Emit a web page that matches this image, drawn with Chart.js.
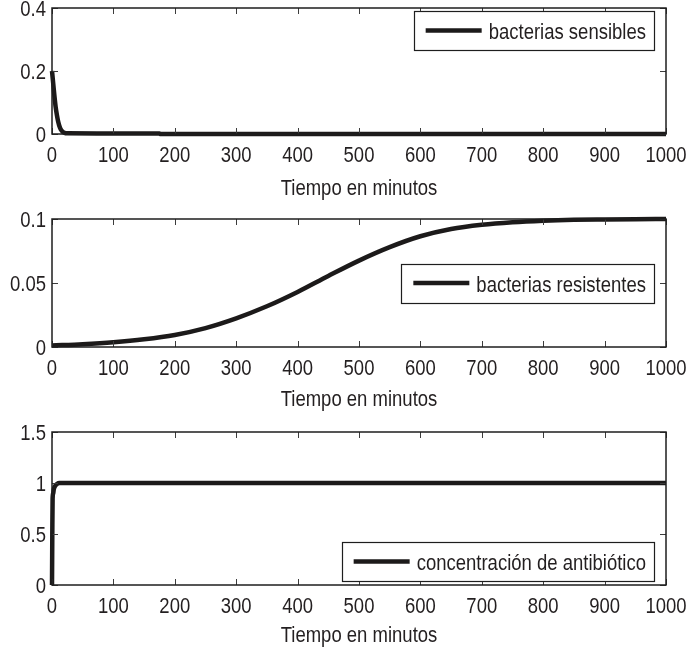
<!DOCTYPE html>
<html>
<head>
<meta charset="utf-8">
<script src="https://cdn.jsdelivr.net/npm/chart.js@4"></script>
<style>
  html, body { margin: 0; padding: 0; background: #fff; }
  #wrap { position: relative; width: 691px; height: 649px; overflow: hidden; background: #fff; }
  #wrap canvas { position: absolute; left: 0; }
</style>
</head>
<body>
<div id="wrap">
  <canvas id="cSens" width="691" height="205" style="top:0px"></canvas>
  <canvas id="cRes" width="691" height="215" style="top:205px"></canvas>
  <canvas id="cAnt" width="691" height="229" style="top:420px"></canvas>
</div>
<script>
// ---- data ----
const xTitle = 'Tiempo en minutos';
const xTicks = [0, 100, 200, 300, 400, 500, 600, 700, 800, 900, 1000];

const sensLabel = 'bacterias sensibles';
const sensTime = [0, 2, 4, 6, 8, 10, 13, 16, 20, 25, 175, 176, 1000];
const sensValues = [0.2, 0.16, 0.12, 0.085, 0.06, 0.04, 0.02, 0.01, 0.004, 0.002, 0.0015, 0, 0];
const sensYTicks = [0, 0.2, 0.4];

const resLabel = 'bacterias resistentes';
const resTime = [0, 50, 100, 150, 200, 250, 300, 350, 400, 450, 500, 550, 600, 650, 700, 750, 800, 850, 900, 950, 1000];
const resValues = [0.0012, 0.0022, 0.0037, 0.006, 0.0094, 0.0148, 0.0224, 0.0318, 0.043, 0.0555, 0.0675, 0.078, 0.0865, 0.0922, 0.0955, 0.0975, 0.0987, 0.0994, 0.0997, 0.0999, 0.1];
const resYTicks = [0, 0.05, 0.1];

const antLabel = 'concentración de antibiótico';
const antTime = [0, 0.5, 1, 2, 3, 5, 8, 12, 1000];
const antValues = [0, 0.5, 0.85, 0.9, 0.94, 0.97, 0.99, 1, 1];
const antYTicks = [0, 0.5, 1, 1.5];

// ---- style ----
const FONT = '"Liberation Sans", Arial, Helvetica, sans-serif';
const FS = 18.5;
const STRETCH = 1.15;   // tall, narrow lettering
const INK = '#231f20';
const LINE = '#1c1a1a';

function tallText(ctx, text, x, y, align) {
  ctx.save();
  ctx.translate(x, y);
  ctx.scale(1, STRETCH);
  ctx.textAlign = align;
  ctx.textBaseline = 'alphabetic';
  ctx.fillText(text, 0, 0);
  ctx.restore();
}

function fmt(v) { return String(Math.round(v * 1000) / 1000); }

// Axes box, inward tick marks on all four sides, tick labels, axis title and legend box
const axesFrame = {
  id: 'axesFrame',
  afterDatasetsDraw(chart, args, opts) {
    const { ctx, chartArea: a, scales: { x, y } } = chart;
    const TL = 6;
    ctx.save();
    ctx.strokeStyle = '#3c3c3c';
    ctx.lineWidth = 1;
    ctx.beginPath();
    x.ticks.forEach(t => {
      const px = Math.round(x.getPixelForValue(t.value)) + 0.5;
      ctx.moveTo(px, a.bottom); ctx.lineTo(px, a.bottom - TL);
      ctx.moveTo(px, a.top); ctx.lineTo(px, a.top + TL);
    });
    y.ticks.forEach(t => {
      const py = Math.round(y.getPixelForValue(t.value)) + 0.5;
      ctx.moveTo(a.left, py); ctx.lineTo(a.left + TL, py);
      ctx.moveTo(a.right, py); ctx.lineTo(a.right - TL, py);
    });
    ctx.stroke();
    ctx.strokeStyle = '#1e1e1e';
    ctx.lineWidth = 1.5;
    ctx.strokeRect(a.left, a.top, a.right - a.left, a.bottom - a.top);

    // tick labels and axis title
    ctx.font = FS + 'px ' + FONT;
    ctx.fillStyle = INK;
    x.ticks.forEach(t => tallText(ctx, fmt(t.value), x.getPixelForValue(t.value), a.bottom + 28, 'center'));
    y.ticks.forEach(t => tallText(ctx, fmt(t.value), a.left - 6, y.getPixelForValue(t.value) + 7.5, 'right'));
    tallText(ctx, xTitle, (a.left + a.right) / 2, a.bottom + opts.titleGap, 'center');

    // legend
    const tw = ctx.measureText(opts.label).width;
    const bw = 75 + tw + 8, bh = 39;
    const bx = a.right - 12 - bw;
    let by;
    if (opts.place === 'ne') by = a.top + 3;
    else if (opts.place === 'e') by = (a.top + a.bottom) / 2 - bh / 2;
    else by = a.bottom - 4 - bh;
    ctx.fillStyle = '#fff';
    ctx.fillRect(bx, by, bw, bh);
    ctx.strokeStyle = '#1e1e1e';
    ctx.lineWidth = 1.2;
    ctx.strokeRect(Math.round(bx) + 0.5, Math.round(by) + 0.5, Math.round(bw), bh);
    const cy = by + bh / 2;
    ctx.strokeStyle = LINE;
    ctx.lineWidth = 4.5;
    ctx.beginPath();
    ctx.moveTo(bx + 12, cy); ctx.lineTo(bx + 68, cy);
    ctx.stroke();
    ctx.fillStyle = INK;
    tallText(ctx, opts.label, bx + 75, cy + 8.5, 'left');
    ctx.restore();
  }
};

function makeChart(id, time, values, label, yTicks, place, box) {
  return new Chart(document.getElementById(id), {
    type: 'line',
    data: {
      datasets: [{
        label: label,
        data: time.map((t, i) => ({ x: t, y: values[i] })),
        borderColor: LINE,
        borderWidth: 4.5,
        pointRadius: 0,
        fill: false,
        clip: false,
        cubicInterpolationMode: 'monotone'
      }]
    },
    options: {
      responsive: false,
      animation: false,
      events: [],
      layout: { padding: { top: box.top, right: 25, left: 0, bottom: 0 } },
      plugins: {
        legend: { display: false },
        tooltip: { enabled: false },
        axesFrame: { label: label, place: place, titleGap: box.titleGap }
      },
      scales: {
        x: {
          type: 'linear',
          min: 0, max: 1000,
          afterBuildTicks: s => { s.ticks = xTicks.map(v => ({ value: v })); },
          afterFit: s => { s.height = box.xh; s.paddingLeft = 0; s.paddingRight = 0; },
          grid: { display: false, drawTicks: false },
          border: { display: false },
          ticks: { display: false }
        },
        y: {
          type: 'linear',
          min: yTicks[0], max: yTicks[yTicks.length - 1],
          afterBuildTicks: s => { s.ticks = yTicks.map(v => ({ value: v })); },
          afterFit: s => { s.width = 52; s.paddingTop = 0; s.paddingBottom = 0; },
          grid: { display: false, drawTicks: false },
          border: { display: false },
          ticks: { display: false }
        }
      }
    },
    plugins: [axesFrame]
  });
}

makeChart('cSens', sensTime, sensValues, sensLabel, sensYTicks, 'ne', { top: 8, xh: 71, titleGap: 61 });
makeChart('cRes', resTime, resValues, resLabel, resYTicks, 'e', { top: 14, xh: 73, titleGap: 59 });
makeChart('cAnt', antTime, antValues, antLabel, antYTicks, 'se', { top: 12, xh: 64, titleGap: 57 });
</script>
</body>
</html>
